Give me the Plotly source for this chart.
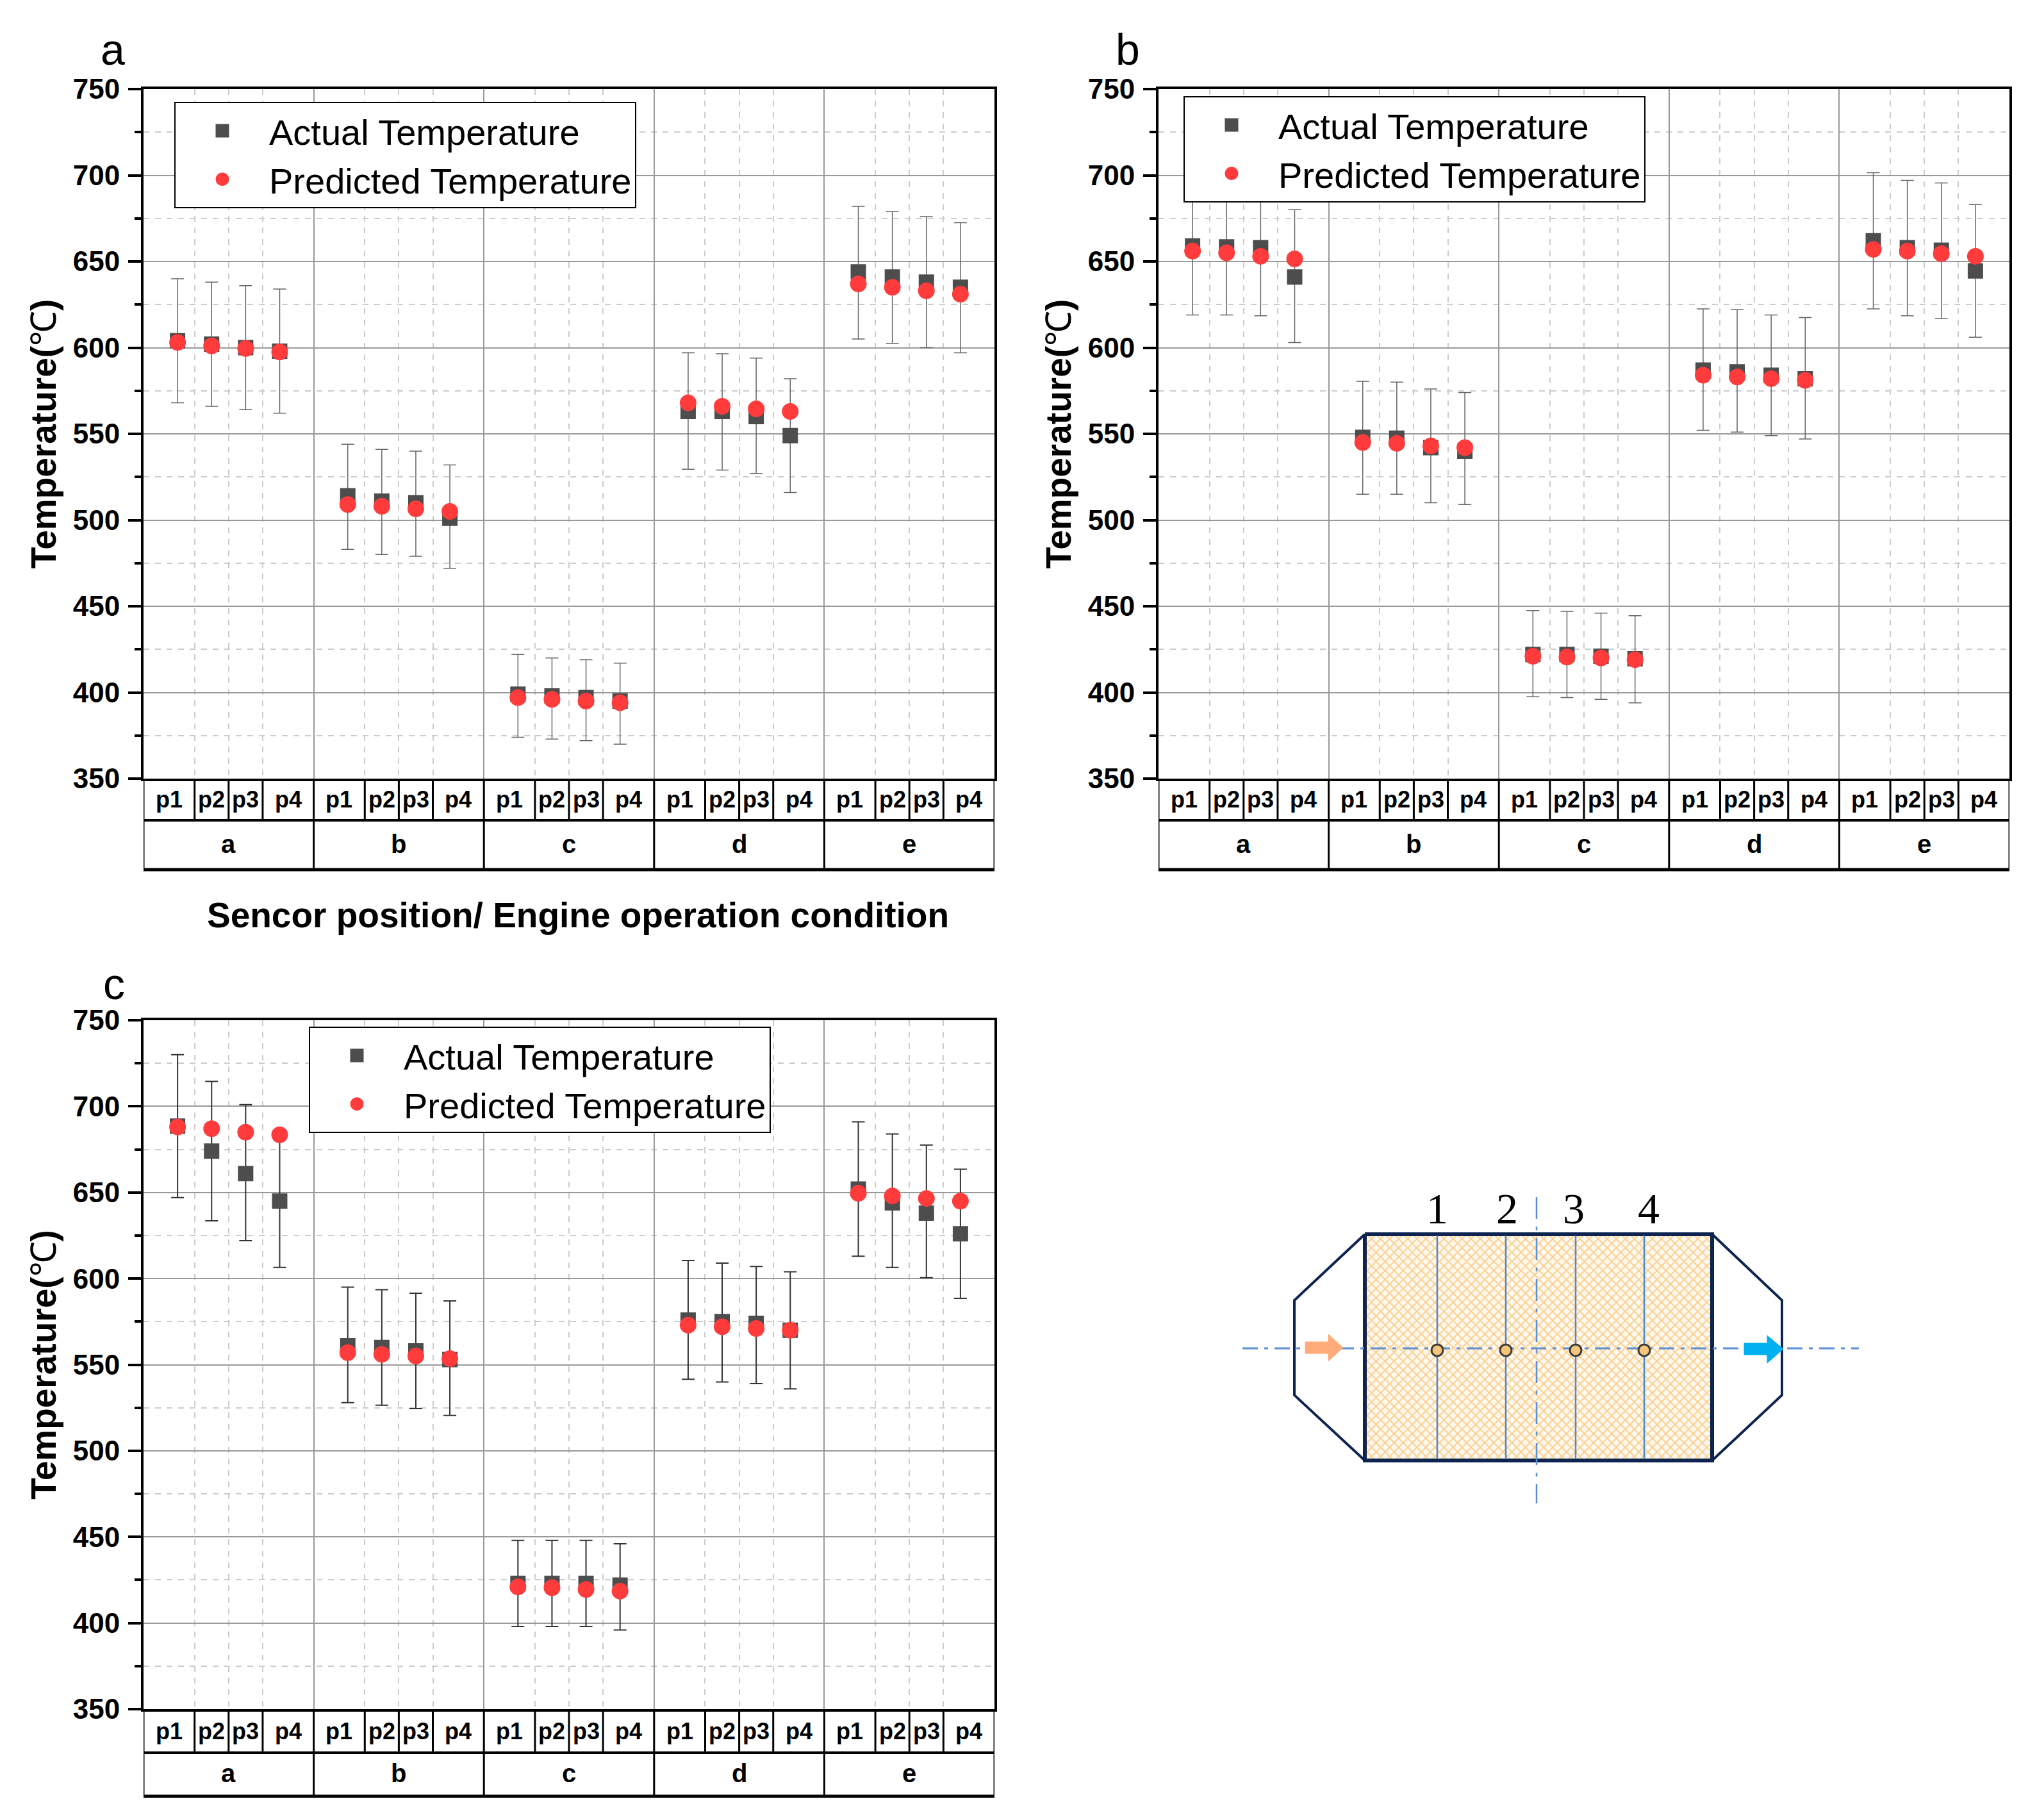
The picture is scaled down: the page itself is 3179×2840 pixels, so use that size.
import plotly.graph_objects as go

W, H = 3179, 2840
FONT = "Liberation Sans"

conditions = ["a", "b", "c", "d", "e"]
sensors = ["p1", "p2", "p3", "p4"]
legend_names = ["Actual Temperature", "Predicted Temperature"]

# values, 4 sensors x 5 conditions
a_actual = [604, 602, 600, 598, 514, 511, 510, 501, 399, 398, 397, 395, 563, 563, 560, 549, 644, 641, 638, 635]
a_pred = [603, 601, 599.5, 597.5, 509, 508, 506.5, 505, 397, 396, 395, 394, 568, 566, 564.5, 563, 637, 635, 633, 631]
a_upper = [640, 638, 636, 634, 544, 541, 540, 532, 422, 420, 419, 417, 597, 596.5, 594, 582, 682, 679, 676, 672.5]
a_lower = [568, 566, 564, 562, 483, 480, 479, 472, 374, 373, 372, 370, 529.5, 529, 527, 516, 605, 602.5, 600, 597]

b_actual = [659, 658.5, 658, 641, 548, 547.5, 542, 540, 422, 422, 421, 419.5, 587, 586, 584, 582, 662, 658, 656.5, 644.5]
b_pred = [656, 655, 653, 651.5, 545, 544.5, 543, 542, 421, 420.5, 420, 419, 584, 583, 582, 581, 657, 656, 654.5, 653]
b_upper = [699, 698, 697, 680, 580.5, 580, 576, 574, 447.5, 447, 446, 444.5, 622.5, 622, 619, 617.5, 701.5, 697, 695.5, 683]
b_lower = [619, 619, 618.5, 603, 515, 515, 510, 509, 397.5, 397, 396, 394, 552, 551, 549, 547, 622.5, 618.5, 617, 606]

c_actual = [688.5, 674, 661, 645, 561, 560, 558, 553, 423, 423, 423, 422, 576, 575, 574, 570, 652, 644, 638, 626]
c_pred = [688, 687, 685, 683.5, 557, 556, 555, 553.5, 421, 420.5, 419.5, 418.5, 573, 572, 571, 570, 649.5, 648, 646.5, 645]
c_upper = [730, 714.5, 701, 684, 595, 593.5, 591.5, 587, 448, 448, 448, 446, 610.5, 609, 607, 604, 691, 684, 677.5, 663.5]
c_lower = [647, 633.5, 622, 606.5, 528, 526.5, 524.5, 520.5, 398, 398, 398, 396, 541.5, 540, 539, 536, 613, 606.5, 600.5, 588.5]

panels = [
    dict(name="a", suffix="", legend="legend", left=224, right=1552, top=139, bottom=1215, row1=1280, row2=1357,
         letter=(176, 77), legend_at=(272, 159), err="#666666", err_w=1.5,
         actual=a_actual, pred=a_pred, upper=a_upper, lower=a_lower),
    dict(name="b", suffix="2", legend="legend2", left=1808, right=3136, top=139, bottom=1215, row1=1280, row2=1357,
         letter=(1760, 77), legend_at=(1847, 150), err="#666666", err_w=1.5,
         actual=b_actual, pred=b_pred, upper=b_upper, lower=b_lower),
    dict(name="c", suffix="3", legend="legend3", left=224, right=1552, top=1592, bottom=2667, row1=2735, row2=2803,
         letter=(178, 1535), legend_at=(482, 1602), err="#333333", err_w=2,
         actual=c_actual, pred=c_pred, upper=c_upper, lower=c_lower),
]


def px(x):
    return x / W


def py(y):
    return 1 - y / H


fig = go.Figure()
shapes = []
annotations = []

# x layout: 5 slots per condition, sensors sit on slots 1-4
xpos = [5 * g + s for g in range(5) for s in range(1, 5)]
grid_major = [5, 10, 15, 20]
grid_minor = [5 * g + d for g in range(5) for d in (1.5, 2.5, 3.5)]
cell_centres = [0.75, 2, 3, 4.25]
cell_edges = [1.5, 2.5, 3.5]

for p in panels:
    xa = "x" + p["suffix"]
    ya = "y" + p["suffix"]
    fig.add_trace(go.Scatter(
        x=xpos, y=p["actual"], mode="markers", name=legend_names[0], xaxis=xa, yaxis=ya, legend=p["legend"],
        marker=dict(symbol="square", size=19, color="#4d4d4d", line=dict(color="#4d4d4d", width=5)),
        error_y=dict(type="data", symmetric=False,
                     array=[u - v for u, v in zip(p["upper"], p["actual"])],
                     arrayminus=[v - l for v, l in zip(p["actual"], p["lower"])],
                     color=p["err"], thickness=p["err_w"], width=10),
    ))
    fig.add_trace(go.Scatter(
        x=xpos, y=p["pred"], mode="markers", name=legend_names[1], xaxis=xa, yaxis=ya, legend=p["legend"],
        marker=dict(symbol="circle", size=21, color="#ff3b3b", line=dict(color="#ff3b3b", width=5)),
    ))

    axis_x = dict(
        domain=[px(p["left"]), px(p["right"])], range=[0, 25], anchor=ya,
        tickmode="array", tickvals=grid_major, showticklabels=False, ticks="",
        showgrid=True, gridcolor="#999999", gridwidth=2,
        minor=dict(tickmode="array", tickvals=grid_minor, ticks="", showgrid=True,
                   gridcolor="#cccccc", gridwidth=1.5, griddash="dash"),
        showline=True, mirror=True, linecolor="black", linewidth=4, zeroline=False,
    )
    axis_y = dict(
        domain=[py(p["bottom"]), py(p["top"])], range=[350, 750], anchor=xa,
        tick0=350, dtick=50, ticks="outside", ticklen=20, tickwidth=4, tickcolor="black",
        ticklabelstandoff=4, tickfont=dict(family=FONT, size=44, color="black", weight="bold"),
        showgrid=True, gridcolor="#999999", gridwidth=2,
        minor=dict(dtick=25, ticks="outside", ticklen=10, tickwidth=4, tickcolor="black", showgrid=True,
                   gridcolor="#cccccc", gridwidth=1.5, griddash="dash"),
        showline=True, mirror=True, linecolor="black", linewidth=4, zeroline=False,
        title=dict(text="<b>Temperature(</b>℃<b>)</b>", standoff=10, font=dict(family=FONT, size=55, color="black")),
    )
    fig.update_layout({"xaxis" + p["suffix"]: axis_x, "yaxis" + p["suffix"]: axis_y})

    # two-level category table below the plot
    shapes.append(dict(type="line", xref=xa, yref="paper", x0=0, x1=25, y0=py(p["row1"]), y1=py(p["row1"]),
                       line=dict(color="black", width=4)))
    shapes.append(dict(type="line", xref=xa, yref="paper", x0=0, x1=25, y0=py(p["row2"]), y1=py(p["row2"]),
                       line=dict(color="black", width=5)))
    for x in (0, 25):
        shapes.append(dict(type="line", xref=xa, yref="paper", x0=x, x1=x, y0=py(p["bottom"]), y1=py(p["row2"]),
                           line=dict(color="black", width=3)))
    for g, cond in enumerate(conditions):
        if g > 0:
            shapes.append(dict(type="line", xref=xa, yref="paper", x0=5 * g, x1=5 * g,
                               y0=py(p["bottom"]), y1=py(p["row2"]), line=dict(color="black", width=3)))
        for d in cell_edges:
            shapes.append(dict(type="line", xref=xa, yref="paper", x0=5 * g + d, x1=5 * g + d,
                               y0=py(p["bottom"]), y1=py(p["row1"]), line=dict(color="black", width=3)))
        for c, lab in zip(cell_centres, sensors):
            annotations.append(dict(text="<b>%s</b>" % lab, xref=xa, yref="paper", x=5 * g + c,
                                    y=py((p["bottom"] + p["row1"]) / 2 + 0), showarrow=False,
                                    xanchor="center", yanchor="middle",
                                    font=dict(family=FONT, size=36, color="black")))
        annotations.append(dict(text="<b>%s</b>" % cond, xref=xa, yref="paper", x=5 * g + 2.5,
                                y=py((p["row1"] + p["row2"]) / 2 - 2), showarrow=False,
                                xanchor="center", yanchor="middle",
                                font=dict(family=FONT, size=40, color="black")))

    annotations.append(dict(text=p["name"], xref="paper", yref="paper", x=px(p["letter"][0]), y=py(p["letter"][1]),
                            showarrow=False, xanchor="center", yanchor="middle",
                            font=dict(family=FONT, size=68, color="black")))

    fig.update_layout({p["legend"]: dict(
        x=px(p["legend_at"][0]), y=py(p["legend_at"][1]), xanchor="left", yanchor="top",
        bgcolor="white", bordercolor="black", borderwidth=2, itemwidth=136,
        font=dict(family=FONT, size=56, color="black"), tracegroupgap=0,
    )})

annotations.append(dict(text="<b>Sencor position/ Engine operation condition</b>", xref="paper", yref="paper",
                        x=px(902), y=py(1428), showarrow=False, xanchor="center", yanchor="middle",
                        font=dict(family=FONT, size=55, color="black")))

# schematic of the converter, drawn in its own hidden axes (picture pixels)
sensor_x = [2243, 2350, 2459, 2566]
sensor_digits = ["1", "2", "3", "4"]
digit_x = [2243, 2352, 2456, 2573]
brick_x = [2130, 2672, 2672, 2130, 2130]
brick_y = [1926, 1926, 2279, 2279, 1926]

fig.add_trace(go.Scatter(
    x=brick_x, y=brick_y, mode="lines", fill="toself", showlegend=False, hoverinfo="skip",
    xaxis="x4", yaxis="y4", line=dict(color="#0d2350", width=6),
    fillpattern=dict(shape="x", fgcolor="#f4a52e", bgcolor="#fff8ee", size=10, solidity=0.35),
))
fig.add_trace(go.Scatter(
    x=[2130, 2020, 2020, 2130], y=[1926, 2029, 2177, 2279], mode="lines", showlegend=False, hoverinfo="skip",
    xaxis="x4", yaxis="y4", line=dict(color="#0d2350", width=4),
))
fig.add_trace(go.Scatter(
    x=[2672, 2781, 2781, 2672], y=[1926, 2029, 2177, 2279], mode="lines", showlegend=False, hoverinfo="skip",
    xaxis="x4", yaxis="y4", line=dict(color="#0d2350", width=4),
))
for sx in sensor_x:
    fig.add_trace(go.Scatter(x=[sx, sx], y=[1928, 2277], mode="lines", showlegend=False, hoverinfo="skip",
                             xaxis="x4", yaxis="y4", line=dict(color="#4a8bd0", width=2.5)))
fig.add_trace(go.Scatter(x=[1939, 2901], y=[2104, 2104], mode="lines", showlegend=False, hoverinfo="skip",
                         xaxis="x4", yaxis="y4", line=dict(color="#5b8fd4", width=3, dash="24px,10px,6px,10px")))
fig.add_trace(go.Scatter(x=[2398, 2398], y=[1868, 2346], mode="lines", showlegend=False, hoverinfo="skip",
                         xaxis="x4", yaxis="y4", line=dict(color="#5b8fd4", width=2.5, dash="34px,12px,6px,12px")))
fig.add_trace(go.Scatter(x=sensor_x, y=[2107] * 4, mode="markers", showlegend=False, hoverinfo="skip",
                         xaxis="x4", yaxis="y4",
                         marker=dict(size=18, color="#f5c57a", line=dict(color="#3c3c3c", width=3))))
# flow arrows
fig.add_trace(go.Scatter(x=[2037, 2073, 2073, 2096, 2073, 2073, 2037, 2037],
                         y=[2094, 2094, 2082, 2103, 2124, 2112, 2112, 2094], mode="lines", fill="toself",
                         showlegend=False, hoverinfo="skip", xaxis="x4", yaxis="y4",
                         fillcolor="#ffab7a", line=dict(color="#ffab7a", width=1)))
fig.add_trace(go.Scatter(x=[2722, 2758, 2758, 2783, 2758, 2758, 2722, 2722],
                         y=[2096, 2096, 2084, 2105, 2127, 2114, 2114, 2096], mode="lines", fill="toself",
                         showlegend=False, hoverinfo="skip", xaxis="x4", yaxis="y4",
                         fillcolor="#00b0f0", line=dict(color="#00b0f0", width=1)))
for dx, d in zip(digit_x, sensor_digits):
    annotations.append(dict(text=d, xref="x4", yref="y4", x=dx, y=1886, showarrow=False,
                            font=dict(family="Liberation Serif", size=68, color="black")))

fig.update_layout(
    xaxis4=dict(domain=[px(1900), px(2950)], range=[1900, 2950], visible=False, anchor="y4"),
    yaxis4=dict(domain=[py(2400), py(1820)], range=[2400, 1820], visible=False, anchor="x4"),
    width=W, height=H, margin=dict(l=0, r=0, t=0, b=0, autoexpand=False),
    paper_bgcolor="white", plot_bgcolor="white",
    shapes=shapes, annotations=annotations,
)

fig.write_html("out.html", config={"displayModeBar": False}, post_script="document.body.style.margin='0';")
